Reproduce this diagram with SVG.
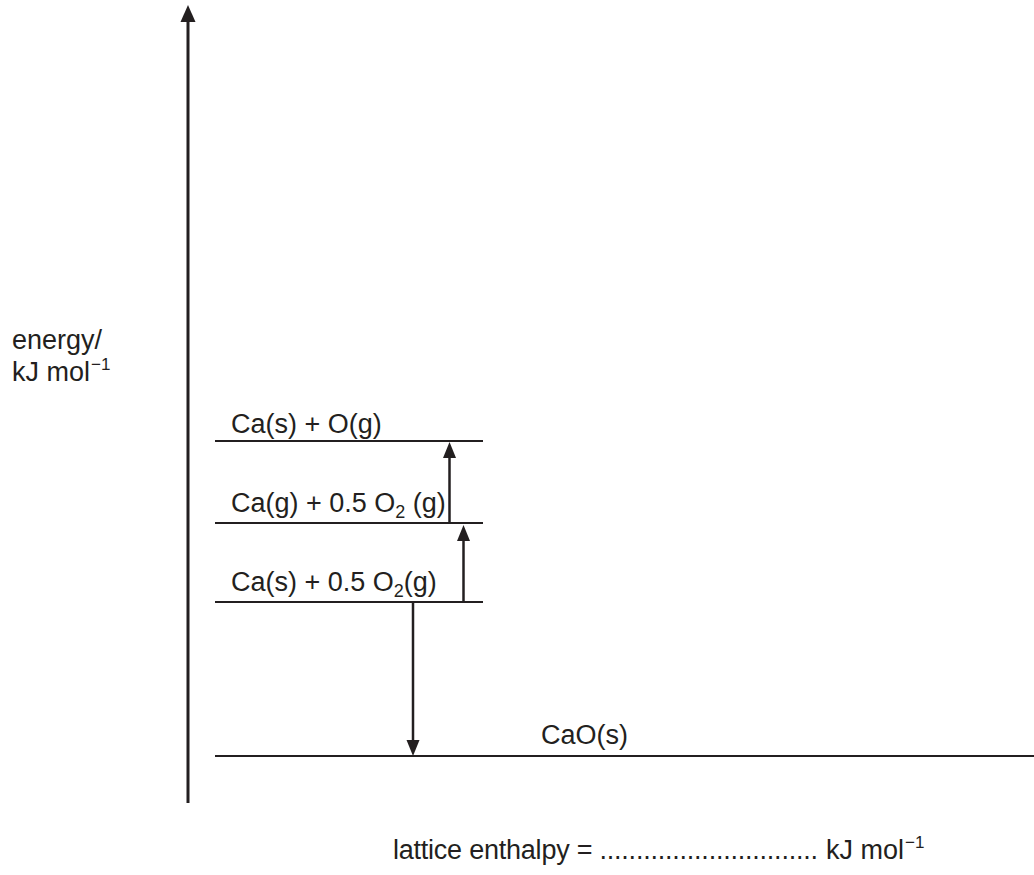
<svg xmlns="http://www.w3.org/2000/svg" width="1034" height="875" viewBox="0 0 1034 875">
<style>
  text { font-family: "Liberation Sans", Arial, sans-serif; font-size: 27px; fill: #231f20; }
  .sup { font-size: 17px; }
  .sub { font-size: 18px; }
  .lvl { stroke: #231f20; stroke-width: 2; fill: none; }
  .arr { stroke: #231f20; stroke-width: 2.5; fill: none; marker-end: url(#ah); }
  .axis { stroke: #231f20; stroke-width: 3; fill: none; marker-end: url(#ahBig); }
</style>
<defs>
  <marker id="ah" markerUnits="userSpaceOnUse" viewBox="0 -7 16 14" refX="0" refY="0" markerWidth="16" markerHeight="14" orient="auto">
    <path d="M0,-6.5 L16,0 L0,6.5 z" fill="#231f20"/>
  </marker>
  <marker id="ahBig" markerUnits="userSpaceOnUse" viewBox="0 -8 17 16" refX="0" refY="0" markerWidth="17" markerHeight="16" orient="auto">
    <path d="M0,-7.5 L17,0 L0,7.5 z" fill="#231f20"/>
  </marker>
</defs>
<rect width="1034" height="875" fill="#ffffff"/>

<g id="axis">
  <line class="axis" x1="188" y1="803" x2="188" y2="22"/>
  <text x="12" y="349">energy/</text>
  <text x="12" y="381">kJ mol<tspan class="sup" dx="1" dy="-11">−1</tspan></text>
</g>

<g id="level-ca-s-o-g">
  <line class="lvl" x1="215" y1="441" x2="483" y2="441"/>
  <text x="231" y="433">Ca(s) + O(g)</text>
</g>

<g id="level-ca-g-o2">
  <line class="lvl" x1="215" y1="523" x2="483" y2="523"/>
  <text x="231" y="512">Ca(g) + 0.5 O<tspan class="sub" dy="6">2</tspan><tspan dy="-6"> (g)</tspan></text>
</g>

<g id="level-ca-s-o2">
  <line class="lvl" x1="215" y1="602" x2="483" y2="602"/>
  <text x="231" y="591">Ca(s) + 0.5 O<tspan class="sub" dy="6">2</tspan><tspan dy="-6">(g)</tspan></text>
</g>

<g id="level-cao">
  <line class="lvl" x1="215" y1="756" x2="1034" y2="756"/>
  <text x="541" y="744">CaO(s)</text>
</g>

<g id="connectors">
  <line class="arr" x1="449.5" y1="523" x2="449.5" y2="458"/>
  <line class="arr" x1="463.5" y1="602" x2="463.5" y2="541"/>
  <line class="arr" x1="413" y1="602" x2="413" y2="740"/>
</g>

<g id="answer">
  <text x="393" y="859"><tspan textLength="425" lengthAdjust="spacing">lattice enthalpy = ..............................</tspan><tspan x="826">kJ mol</tspan><tspan class="sup" dx="1" dy="-11">−1</tspan></text>
</g>
</svg>
